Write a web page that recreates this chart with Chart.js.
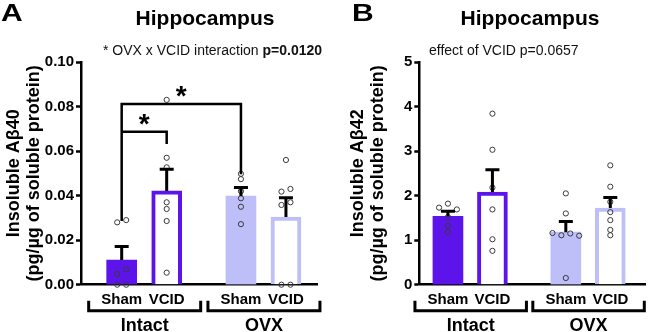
<!DOCTYPE html>
<html><head><meta charset="utf-8">
<script src="https://cdn.jsdelivr.net/npm/chart.js@4.4.1/dist/chart.umd.min.js"></script>
<style>
body{margin:0;background:#fff;}
#wrap{position:relative;width:650px;height:332px;overflow:hidden;font-family:"Liberation Sans",Arial,sans-serif;color:#000;}
canvas{position:absolute;top:0;}
.t{position:absolute;white-space:nowrap;line-height:1;}
.big{font-size:24px;font-weight:bold;transform:scaleX(1.25);transform-origin:left top;}
.ttl{font-size:21px;font-weight:bold;transform:translateX(-50%);}
.sub{font-size:14px;color:#111;}
</style></head><body>
<div id="wrap">
<canvas id="cA" width="325" height="332" style="left:0"></canvas>
<canvas id="cB" width="325" height="332" style="left:325px"></canvas>
<div class="t big" style="left:1px;top:1px">A</div>
<div class="t ttl" style="left:205px;top:7px">Hippocampus</div>
<div class="t sub" style="left:103px;top:43px">* OVX x VCID interaction <b>p=0.0120</b></div>
<div class="t big" style="left:352px;top:1px">B</div>
<div class="t ttl" style="left:530px;top:7px">Hippocampus</div>
<div class="t sub" style="left:429px;top:43px">effect of VCID p=0.0657</div>
</div>
<script>
// ---------------- DATA ----------------
const categories = ['Sham', 'VCID', 'Sham', 'VCID'];
const groupLabels = ['Intact', 'OVX'];

// Panel A: Insoluble Aβ40 (pg/µg of soluble protein)
const ab40Mean = [0.0111, 0.0421, 0.0398, 0.0304];
const ab40Sem  = [0.0060, 0.0097, 0.0038, 0.0086];
const ab40Points = [
  [0.028, 0.029, 0.0048, 0.0069, 0.0, 0.0],
  [0.083, 0.057, 0.0527, 0.037, 0.034, 0.0286, 0.0054],
  [0.0498, 0.0474, 0.042, 0.0388, 0.035, 0.0272],
  [0.056, 0.0418, 0.043, 0.0358, 0.037, 0.0, 0.0]
];
const ab40Ticks = [0, 0.02, 0.04, 0.06, 0.08, 0.10];

// Panel B: Insoluble Aβ42 (pg/µg of soluble protein)
const ab42Mean = [1.535, 2.08, 1.18, 1.72];
const ab42Sem  = [0.113, 0.50, 0.24, 0.235];
const ab42Points = [
  [1.73, 1.82, 1.69, 1.52, 1.32, 1.18],
  [3.84, 3.03, 2.18, 1.69, 1.02, 0.76],
  [2.05, 1.60, 1.16, 1.11, 1.15, 1.10, 0.15],
  [2.68, 2.20, 1.86, 1.63, 1.45, 1.23, 1.11]
];
const ab42Ticks = [0, 1, 2, 3, 4, 5];

// significance brackets (panel A), in data units
const sigBrackets = [
  {from: 0, to: 2, level: 0.0811, leftEnd: 0.0286, rightEnd: 0.0496, label: '*'},
  {from: 0, to: 1, level: 0.0687, leftEnd: 0.0687, rightEnd: 0.0632, label: '*'}
];

// ---------------- LAYOUT / STYLE ----------------
const xPositions = [0, 1, 2.65, 3.65];
const PX_PER_UNIT = 45;
const DARK = '#5C14EB', LIGHT = '#BEBEF8';
const barFill   = [DARK, '#ffffff', LIGHT, '#ffffff'];
const barBorder = [DARK, DARK, LIGHT, LIGHT];
const barBorderW = [0, 4, 0, 4];
const FONT = "'Liberation Sans', Arial, sans-serif";
Chart.defaults.font.family = FONT;
Chart.defaults.color = '#000';

function jitter(points, yMax, plotH) {
  // spread points whose values are within ~5px of each other
  const thr = yMax * 5 / plotH;
  const out = [];
  points.forEach((vals, g) => {
    const idx = vals.map((v, i) => i).sort((a, b) => vals[b] - vals[a]);
    let clusters = [], cur = [idx[0]];
    for (let k = 1; k < idx.length; k++) {
      if (Math.abs(vals[cur[cur.length - 1]] - vals[idx[k]]) < thr) cur.push(idx[k]);
      else { clusters.push(cur); cur = [idx[k]]; }
    }
    clusters.push(cur);
    clusters.forEach(c => {
      c.sort((a, b) => a - b);
      c.forEach((i, k) => {
        const off = (k - (c.length - 1) / 2) * 9 / PX_PER_UNIT;
        out.push({x: xPositions[g] + off, y: vals[i]});
      });
    });
  });
  return out;
}

const panelPlugin = {
  id: 'panelExtras',
  afterDatasetsDraw(chart) {
    const p = chart.options.plugins.panelExtras;
    const {ctx, scales: {x, y}} = chart;
    ctx.save();
    ctx.strokeStyle = '#000';
    ctx.lineWidth = 3;
    p.means.forEach((m, i) => {
      const px = x.getPixelForValue(xPositions[i]);
      const y0 = y.getPixelForValue(m), y1 = y.getPixelForValue(m + p.sems[i]);
      ctx.beginPath();
      ctx.moveTo(px, y0); ctx.lineTo(px, y1);
      ctx.moveTo(px - 7, y1); ctx.lineTo(px + 7, y1);
      ctx.stroke();
    });
    ctx.lineWidth = 2.5;
    (p.sig || []).forEach(b => {
      const x0 = x.getPixelForValue(xPositions[b.from]);
      const x1 = x.getPixelForValue(xPositions[b.to]);
      const yl = y.getPixelForValue(b.level);
      ctx.beginPath();
      ctx.moveTo(x0, y.getPixelForValue(b.leftEnd));
      ctx.lineTo(x0, yl); ctx.lineTo(x1, yl);
      ctx.lineTo(x1, y.getPixelForValue(b.rightEnd));
      ctx.stroke();
      ctx.fillStyle = '#000';
      ctx.font = 'bold 28px ' + FONT;
      ctx.textAlign = 'center';
      ctx.textBaseline = 'alphabetic';
      ctx.fillText(b.label, (x0 + x1) / 2, yl + 1);
    });
    ctx.restore();
  },
  afterDraw(chart) {
    const {ctx, scales: {x, y}} = chart;
    ctx.save();
    ctx.strokeStyle = '#000';
    ctx.fillStyle = '#000';
    ctx.lineWidth = 3;
    const yLine = y.bottom + 26, yTop = yLine - 10;
    [[0, 1], [2, 3]].forEach((g, gi) => {
      const x0 = x.getPixelForValue(xPositions[g[0]]) - 33;
      const x1 = x.getPixelForValue(xPositions[g[1]]) + 34;
      ctx.beginPath();
      ctx.moveTo(x0, yTop); ctx.lineTo(x0, yLine); ctx.lineTo(x1, yLine); ctx.lineTo(x1, yTop);
      ctx.stroke();
      ctx.font = 'bold 18px ' + FONT;
      ctx.textAlign = 'center';
      ctx.textBaseline = 'alphabetic';
      ctx.fillText(groupLabels[gi], (x0 + x1) / 2, 331);
    });
    ctx.restore();
  }
};

function makePanel(id, cfg) {
  const plotH = 222.7;
  return new Chart(document.getElementById(id), {
    type: 'bar',
    data: {
      datasets: [
        {
          type: 'bar', order: 2,
          data: cfg.means.map((m, i) => ({x: xPositions[i], y: m})),
          backgroundColor: barFill, borderColor: barBorder, borderWidth: barBorderW,
          borderSkipped: 'bottom', barThickness: 30
        },
        {
          type: 'scatter', order: 1, clip: false,
          data: jitter(cfg.points, cfg.yMax, plotH),
          pointRadius: 2.6, pointBorderWidth: 1,
          pointBorderColor: '#3a3a3a', pointBackgroundColor: 'rgba(0,0,0,0)'
        }
      ]
    },
    options: {
      responsive: false, animation: false, devicePixelRatio: 1,
      layout: {padding: {top: 62, right: cfg.padRight, bottom: 0, left: 0}},
      plugins: {
        legend: {display: false}, tooltip: {enabled: false},
        panelExtras: {means: cfg.means, sems: cfg.sems, sig: cfg.sig}
      },
      scales: {
        x: {
          type: 'linear', min: cfg.xMin, max: cfg.xMax, offset: false,
          grid: {display: false, drawTicks: false, offset: false},
          border: {display: true, color: '#000', width: 2.5},
          afterBuildTicks: ax => { ax.ticks = xPositions.map(v => ({value: v})); },
          afterFit: ax => { ax.height = 332 - 284.7; },
          ticks: {
            autoSkip: false, maxRotation: 0, padding: 6,
            font: {size: 15, weight: 'bold'}, color: '#000',
            callback: (v, i) => categories[i]
          }
        },
        y: {
          min: 0, max: cfg.yMax,
          afterBuildTicks: ax => { ax.ticks = cfg.ticks.map(v => ({value: v})); },
          afterFit: ax => { ax.width = cfg.yWidth; },
          grid: {drawOnChartArea: false, drawTicks: true, tickLength: 5, tickWidth: 2.5, color: '#000'},
          border: {display: true, color: '#000', width: 2.5},
          ticks: {padding: 2, font: {size: 15, weight: 'bold'}, color: '#000', callback: cfg.fmt},
          title: {
            display: true, text: cfg.title, color: '#000',
            font: {size: 18, weight: 'bold', lineHeight: 1.1},
            padding: {top: cfg.titlePad, bottom: 0}
          }
        }
      }
    },
    plugins: [panelPlugin]
  });
}

makePanel('cA', {
  means: ab40Mean, sems: ab40Sem, points: ab40Points, ticks: ab40Ticks, yMax: 0.10,
  fmt: v => v.toFixed(2), title: ['Insoluble Aβ40', '(pg/µg of soluble protein)'],
  yWidth: 81, titlePad: 4, padRight: 8, xMin: -0.904, xMax: 4.34, sig: sigBrackets
});
makePanel('cB', {
  means: ab42Mean, sems: ab42Sem, points: ab42Points, ticks: ab42Ticks, yMax: 5,
  fmt: v => String(v), title: ['Insoluble Aβ42', '(pg/µg of soluble protein)'],
  yWidth: 94.3, titlePad: 23, padRight: 2, xMin: -0.644, xMax: 4.43, sig: []
});
</script>
</body></html>
